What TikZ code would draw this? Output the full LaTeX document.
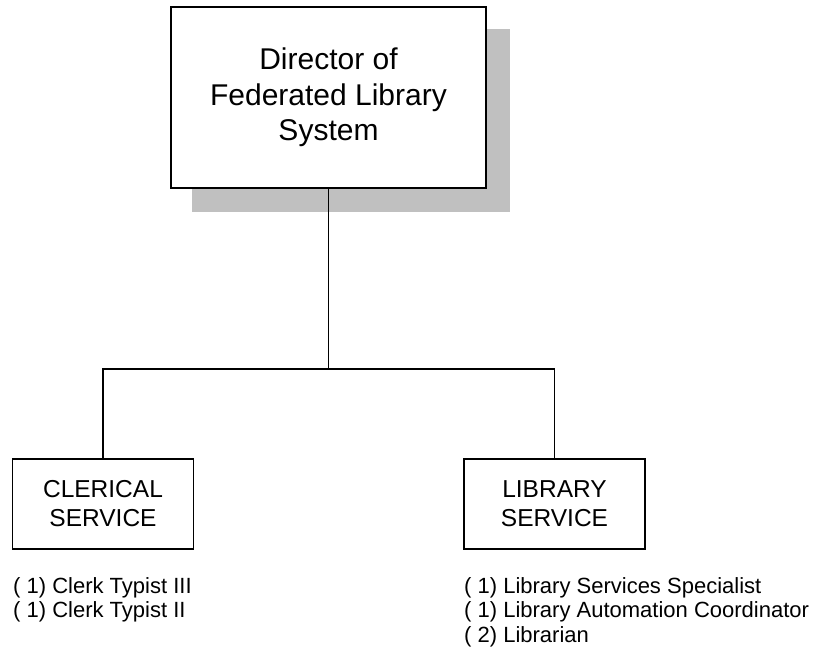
\documentclass[tikz,border=0pt]{standalone}
\usepackage{fontspec}
\setmainfont{Liberation Sans}
\begin{document}
\begin{tikzpicture}[x=1pt,y=-1pt,
  boxline/.style={draw=black,line width=1.6pt},
  conn/.style={draw=black,line width=1.6pt},
  dirbox/.style={boxline,fill=white,minimum width=315pt,minimum height=181pt,inner sep=0pt,align=center,
     font=\fontsize{30}{35.5}\selectfont},
  unitbox/.style={boxline,fill=white,minimum width=181pt,minimum height=90pt,inner sep=0pt,align=center,
     font=\fontsize{24.5}{29}\selectfont},
  shadowbox/.style={fill=shadowgray,draw=none,minimum width=318pt,minimum height=183pt,inner sep=0pt},
  listitem/.style={anchor=base west,inner sep=0pt,font=\fontsize{22}{25}\selectfont}
]
\definecolor{shadowgray}{HTML}{C0C0C0}
\useasboundingbox (0,0) rectangle (824,656);
\node[shadowbox] (shadow) at (351,120.5) {};
\node[dirbox] (dir) at (328.5,97.5) {Director of\\Federated Library\\System};
\coordinate (bus) at (328.5,369);
\node[unitbox] (cler) at (103,504) {CLERICAL\\SERVICE};
\node[unitbox] (lib) at (554.5,504) {LIBRARY\\SERVICE};
\draw[conn] (dir.south) -- (bus);
\draw[conn] (cler.north) |- (bus);
\draw[conn] (lib.north) |- (bus);
\node[listitem] (c1) at (13,593) {( 1) Clerk Typist III};
\node[listitem] (c2) at (13,617.5) {( 1) Clerk Typist II};
\node[listitem] (l1) at (464,593) {( 1) Library Services Specialist};
\node[listitem] (l2) at (464,617.5) {( 1) Library Automation Coordinator};
\node[listitem] (l3) at (464,642) {( 2) Librarian};
\end{tikzpicture}
\end{document}
